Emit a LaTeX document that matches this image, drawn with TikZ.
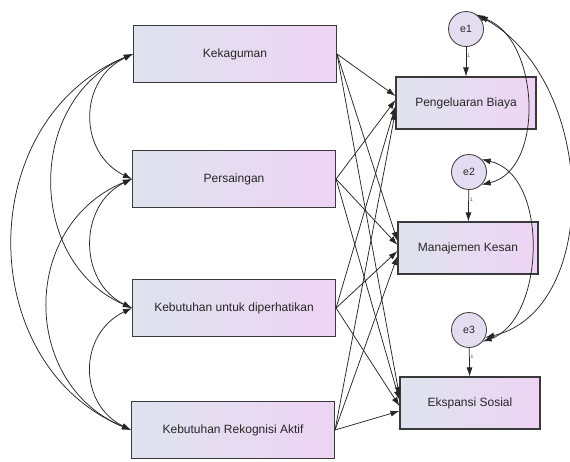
\documentclass[tikz,border=0pt]{standalone}
\usepackage{fontspec}
\setmainfont{Liberation Sans}
\usetikzlibrary{arrows.meta}
\definecolor{boxl}{HTML}{DEE3EE}
\definecolor{boxr}{HTML}{EED4F4}
\definecolor{edge}{HTML}{3A3A3A}
\definecolor{errf}{HTML}{E4DCF0}
\tikzset{
  var/.style={draw=edge, line width=1.1pt, left color=boxl, right color=boxr,
    minimum width=203pt, minimum height=57pt, inner sep=0pt,
    font=\fontsize{12}{14}\selectfont, text=black!85},
  obs/.style={var, minimum width=140pt, minimum height=52pt},
  err/.style={draw=edge, line width=0.8pt, circle, fill=errf, minimum size=35pt,
    inner sep=0pt, font=\fontsize{10.5}{12}\selectfont, text=black!85},
  path/.style={draw=black!85, line width=0.75pt, -{Latex[length=9pt,width=6pt]}},
  cov/.style={draw=black!85, line width=0.75pt, {Latex[length=9pt,width=6pt]}-{Latex[length=9pt,width=6pt]}},
  one/.style={font=\fontsize{5}{6}\selectfont, text=black!70, inner sep=1pt}
}
\begin{document}
\begin{tikzpicture}[x=1pt,y=-1pt]
\useasboundingbox (0,0) rectangle (570,461);
% exogenous
\node[var] (k1) at (235,54) {Kekaguman};
\node[var] (k2) at (234,179) {Persaingan};
\node[var] (k3) at (234,308) {Kebutuhan untuk diperhatikan};
\node[var] (k4) at (233,430) {Kebutuhan Rekognisi Aktif};
% endogenous
\node[obs] (r1) at (466,103) {Pengeluaran Biaya};
\node[obs] (r2) at (468,248) {Manajemen Kesan};
\node[obs] (r3) at (470,403) {Ekspansi Sosial};
% errors
\node[err] (e1) at (466,29) {e1};
\node[err] (e2) at (469,172) {e2};
\node[err] (e3) at (469,330) {e3};
% error paths
\draw[path] (e1) -- (r1) node[one, pos=0.3, right] {1};
\draw[path] (e2) -- (r2) node[one, pos=0.3, right] {1};
\draw[path] (e3) -- (r3) node[one, pos=0.3, right] {1};
% structural paths
\foreach \r in {r1,r2,r3}{
  \draw[path] (k1.east) -- ([yshift=7pt]\r.west);
  \draw[path] (k2.east) -- ([yshift=3pt]\r.west);
  \draw[path] (k3.east) -- ([yshift=-3pt]\r.west);
  \draw[path] (k4.east) -- ([yshift=-8pt]\r.west);
}
% covariances among exogenous
\draw[cov] (k1.west) .. controls (78,80) and (78,153) .. (k2.west);
\draw[cov] (k2.west) .. controls (78,205) and (78,282) .. (k3.west);
\draw[cov] (k3.west) .. controls (78,334) and (78,404) .. (k4.west);
\draw[cov] (k1.west) .. controls (26,100) and (26,262) .. (k3.west);
\draw[cov] (k2.west) .. controls (20,225) and (20,384) .. (k4.west);
\draw[cov] (k1.west) .. controls (-27,120) and (-27,364) .. (k4.west);
% covariances among errors
\draw[cov] (e1.45) .. controls (540,40) and (545,170) .. (e2.-45);
\draw[cov] (e1.55) .. controls (598,80) and (602,310) .. (e3.-25);
\draw[cov] (e2.45) .. controls (550,175) and (545,320) .. (e3.-40);
\end{tikzpicture}
\end{document}
